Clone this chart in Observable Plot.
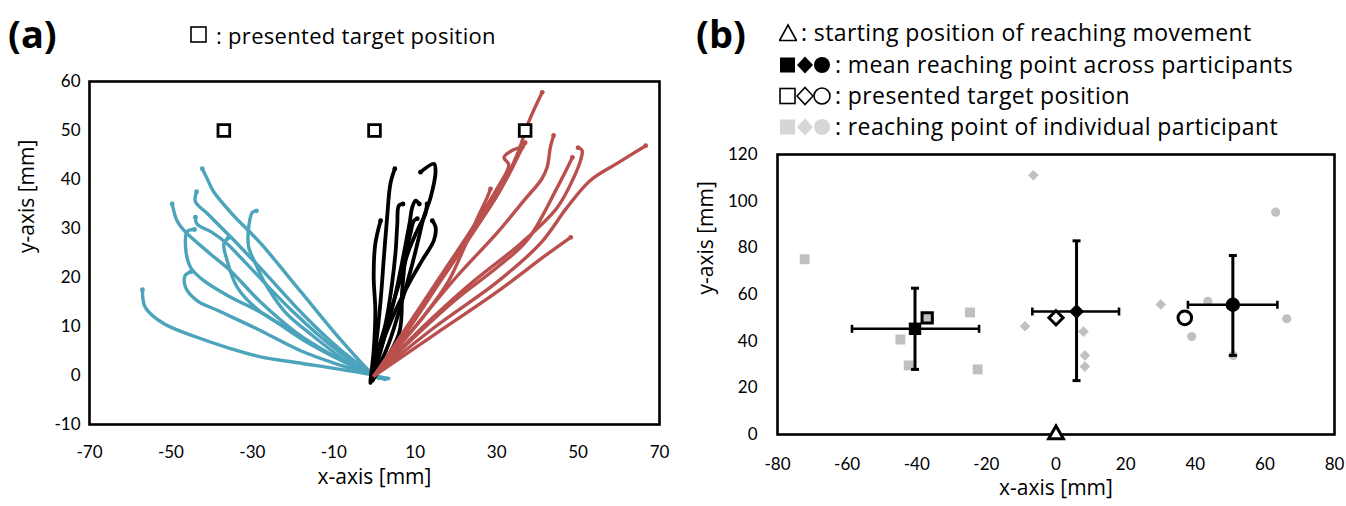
<!DOCTYPE html>
<html>
<head>
<meta charset="utf-8">
<script src="https://cdn.jsdelivr.net/npm/d3@7"></script>
<script src="https://cdn.jsdelivr.net/npm/@observablehq/plot@0.6"></script>
<style>
  html, body { margin: 0; padding: 0; background: #fff; }
  body { width: 1346px; height: 506px; position: relative; overflow: hidden; font-family: "Open Sans", Lato, sans-serif; }
  .panel { position: absolute; top: 0; }
  .lbl { position: absolute; font-weight: bold; font-size: 38px; line-height: 1; }
  .leg { position: absolute; font-size: 23px; letter-spacing: 0.4px; line-height: 1; white-space: nowrap; display: flex; align-items: center; }
  .leg svg { display: block; }
</style>
</head>
<body>
<div id="pa" class="panel" style="left:0"></div>
<div id="pb" class="panel" style="left:680px"></div>
<div class="lbl" style="left:8px;top:14px">(a)</div>
<div class="lbl" style="left:696px;top:14px">(b)</div>
<div class="leg" style="left:189px;top:24px;font-size:22px;letter-spacing:0.3px"><svg width="20" height="20"><rect x="2" y="2" width="15" height="15" fill="#fff" stroke="#000" stroke-width="1.6"/></svg><span style="margin-left:7px">: presented target position</span></div>
<div id="legb"></div>
<script>
// ---------- Panel (a): reaching trajectories (mm) ----------
const targetsA = [[-37, 50], [0, 50], [37, 50]];

const cyanTrajectories = [
  [[2.5,-0.8],[0,0],[-8,1.2],[-18,2.5],[-28,3.8],[-35.4,5.5],[-43.6,7.8],[-51.8,10.6],[-56.3,13.9],[-57,17.5]],
  [[2,-0.6],[0,0],[-8,2],[-18,5],[-28.8,9.5],[-38.6,13.3],[-43.6,15.3],[-46.4,18],[-46.5,20.4],[-45,21.2]],
  [[1.5,-0.5],[0,0],[-8,7],[-18,17],[-28,27],[-35,33],[-39.5,37.5],[-41,40],[-42.3,42.2]],
  [[3,-0.7],[0,0],[-8,3],[-18,8],[-28,15],[-35.4,21.4],[-40.3,24.8],[-46.8,29.6],[-48.5,31.6],[-49.7,35]],
  [[1,-0.6],[0,0],[-8,5],[-17,12],[-27,21],[-35,28],[-41,33],[-44,35.5],[-43.7,37.5]],
  [[2,-0.5],[0,0],[-9,5],[-20,13],[-32.9,24.1],[-36.2,26.9],[-39.9,29.2],[-43.6,30.9],[-44,32.3]],
  [[1.5,-0.4],[0,0],[-7,3],[-15,8],[-22,13],[-27,19],[-29.2,22.8],[-30.9,26.2],[-30.9,30.3],[-30,33.3],[-29,33.6]],
  [[3.5,-0.6],[0,0],[-8,3],[-17,7],[-27.3,12.6],[-35.4,16],[-42,19.4],[-45.2,22.1],[-46.4,26.2],[-46,29.4],[-44.2,29.8]],
  [[1,-0.3],[0,0],[-10,4],[-20,9],[-28,13],[-33.7,18],[-36.2,23.5],[-37,26.9],[-36,28]]
];

const blackTrajectories = [
  [[-1,-1.5],[0.2,5.1],[1.5,15.3],[2.3,24.1],[3.1,32.3],[3.9,39.1],[5,42.2]],
  [[-0.5,-1],[3.5,6.5],[6.8,15.3],[9.3,22.8],[10.9,28.2],[12.1,32.3],[13.8,36.4],[15,41.8],[14.6,43.2],[11.3,41.5]],
  [[-1,-1],[-0.2,5.1],[0.2,13.3],[-0.2,20.1],[0.2,26.9],[1.5,31.6]],
  [[-0.5,-1],[-0.2,2.1],[2.7,10.5],[4.3,18.7],[5.2,25.5],[5.6,30.9],[6,34.7],[7,35]],
  [[-0.5,-1],[3.1,10.5],[6,18.7],[8.4,25.5],[10.5,29.6],[12.5,33],[12.9,35]],
  [[-0.5,-1],[1.9,6.5],[5.2,13.3],[8.4,18.7],[11.7,23.5],[14.6,27.6],[15,30.3],[14.2,31.6]],
  [[-0.5,-1],[6,8.5],[6.8,17.3],[7.6,24.1],[8.8,28.9],[9.7,31.6],[10.5,32]],
  [[-0.5,-1],[2.5,8],[5,16],[7,24],[8.6,31],[9.3,34.4],[10.1,35.7],[11,35]]
];

const redTrajectories = [
  [[0,0],[8,9],[16,19],[24,29],[31,38],[35,45],[38,52],[41.2,57.8]],
  [[0,0],[8,10],[16,20],[24,30],[30,38],[33,43],[31.8,44.5],[34,46],[36.3,46.6]],
  [[0,0],[10,10],[20,20],[30,29],[37,36],[41,40],[42.4,42.5],[43.2,46.6],[44,49]],
  [[0,0],[12,10],[24,19],[36,27],[44.9,34.3],[49,40.5],[50.6,43.9],[51,45.9],[50,46.5]],
  [[0,0],[10,8],[20,15.5],[30,22],[37.5,27.6],[44.9,38.4],[48.6,44.5]],
  [[0,0],[15,10],[30,19],[40.8,27],[47.3,34.3],[53,39.8],[60,43.5],[66.6,46.9]],
  [[0,0],[15,8.5],[30,17],[42,24.5],[48.2,28.2]],
  [[0,0],[6,6],[12,12],[18,19],[22,26],[25,31.6],[27.7,36.4],[28.5,38.1]],
  [[0,0],[10,12],[20,24],[28,34],[33,41],[36,46],[37,47.5]]
];

const xTicksA = [-70, -50, -30, -10, 10, 30, 50, 70];
const yTicksA = [-10, 0, 10, 20, 30, 40, 50, 60];

// ---------- Panel (b): reaching points (mm) ----------
const groups = ["square", "diamond", "circle"];
const meanX = [-40.5, 5.9, 50.8];
const meanY = [45.3, 52.7, 55.6];
const errXLow = [-58.6, -6.8, 37.9];
const errXHigh = [-22.1, 18.1, 63.6];
const errYLow = [27.9, 23.1, 33.9];
const errYHigh = [62.7, 83.0, 76.7];
const targetX = [-37, 0, 37];
const targetY = [50, 50, 50];
const indivSquares = [[-72.2, 75.1], [-44.7, 40.7], [-42.3, 29.6], [-24.7, 52.3], [-22.5, 27.9], [-37, 50]];
const indivDiamonds = [[-6.5, 111.1], [-8.9, 46.4], [7.9, 44.1], [8.3, 33.9], [8.3, 29.1], [30.1, 55.7]];
const indivCircles = [[63.1, 95.3], [43.6, 57.1], [39.0, 42.0], [66.3, 49.6], [50.9, 33.9]];
const startPoint = [[0, 0]];
const xTicksB = [-80, -60, -40, -20, 0, 20, 40, 60, 80];
const yTicksB = [0, 20, 40, 60, 80, 100, 120];

// ---------- helpers ----------
const CYAN = "#4ba4bb", RED = "#b9504e", GRAY = "#c0c0c0";
function flatten(list, group) {
  const out = [];
  list.forEach((pts, i) => pts.forEach(([x, y], j) => out.push({x, y, id: group + i, last: j === pts.length - 1})));
  return out;
}
const cyanRows = flatten(cyanTrajectories, "c");
const blackRows = flatten(blackTrajectories, "b");
const redRows = flatten(redTrajectories, "r");
const fmt = d => String(d);
const TICKFONT = "Lato, 'Open Sans', sans-serif";
const LABELFONT = "'Open Sans', Lato, sans-serif";

const plotA = Plot.plot({
  width: 680, height: 506,
  marginTop: 81, marginRight: 21, marginBottom: 82, marginLeft: 89,
  style: {fontFamily: TICKFONT, fontSize: "17px", color: "#000", background: "transparent"},
  x: {domain: [-70, 70], ticks: xTicksA, tickFormat: fmt, tickSize: 0, tickPadding: 21, label: null},
  y: {domain: [-10, 60], ticks: yTicksA, tickFormat: fmt, tickSize: 0, tickPadding: 9, label: null},
  marks: [
    Plot.line(cyanRows, {x: "x", y: "y", z: "id", stroke: CYAN, strokeWidth: 3.4, curve: "catmull-rom", strokeLinecap: "round", strokeLinejoin: "round"}),
    Plot.dot(cyanRows.filter(d => d.last), {x: "x", y: "y", r: 2.4, fill: CYAN}),
    Plot.line(blackRows, {x: "x", y: "y", z: "id", stroke: "#000", strokeWidth: 3.8, curve: "catmull-rom", strokeLinecap: "round", strokeLinejoin: "round"}),
    Plot.dot(blackRows.filter(d => d.last), {x: "x", y: "y", r: 2.4, fill: "#000"}),
    Plot.line(redRows, {x: "x", y: "y", z: "id", stroke: RED, strokeWidth: 3.4, curve: "catmull-rom", strokeLinecap: "round", strokeLinejoin: "round"}),
    Plot.dot(redRows.filter(d => d.last), {x: "x", y: "y", r: 2.4, fill: RED}),
    Plot.dot(targetsA, {x: d => d[0], y: d => d[1], symbol: "square", r: 6.6, fill: "#fff", stroke: "#000", strokeWidth: 2.8}),
    Plot.frame({stroke: "#000", strokeWidth: 2.6}),
    Plot.text(["x-axis [mm]"], {frameAnchor: "bottom", dy: 59, fontSize: 21, fontFamily: LABELFONT}),
    Plot.text(["y-axis [mm]"], {frameAnchor: "left", dx: -62, rotate: -90, fontSize: 21, fontFamily: LABELFONT})
  ]
});
document.getElementById("pa").appendChild(plotA);

const capV = {draw(c, s) { const h = Math.sqrt(s / Math.PI); c.moveTo(0, -h); c.lineTo(0, h); }};
const capH = {draw(c, s) { const h = Math.sqrt(s / Math.PI); c.moveTo(-h, 0); c.lineTo(h, 0); }};
const means = groups.map((g, i) => ({g, x: meanX[i], y: meanY[i], x1: errXLow[i], x2: errXHigh[i], y1: errYLow[i], y2: errYHigh[i], tx: targetX[i], ty: targetY[i]}));
const byG = g => means.filter(d => d.g === g);

const plotB = Plot.plot({
  width: 666, height: 506,
  marginTop: 154, marginRight: 12, marginBottom: 72, marginLeft: 97,
  style: {fontFamily: TICKFONT, fontSize: "17px", color: "#000", background: "transparent"},
  x: {domain: [-80, 80], ticks: xTicksB, tickFormat: fmt, tickSize: 0, tickPadding: 23, label: null},
  y: {domain: [0, 120], ticks: yTicksB, tickFormat: fmt, tickSize: 0, tickPadding: 20, label: null},
  marks: [
    Plot.dot(indivSquares, {x: d => d[0], y: d => d[1], symbol: "square", r: 5.6, fill: GRAY}),
    Plot.dot(indivDiamonds, {x: d => d[0], y: d => d[1], symbol: "diamond2", r: 4.8, fill: GRAY}),
    Plot.dot(indivCircles, {x: d => d[0], y: d => d[1], symbol: "circle", r: 4.6, fill: GRAY}),
    Plot.ruleY(means, {y: "y", x1: "x1", x2: "x2", stroke: "#000", strokeWidth: 2.6}),
    Plot.ruleX(means, {x: "x", y1: "y1", y2: "y2", stroke: "#000", strokeWidth: 3}),
    Plot.dot(means, {x: "x1", y: "y", symbol: capV, r: 4, stroke: "#000", strokeWidth: 2.6}),
    Plot.dot(means, {x: "x2", y: "y", symbol: capV, r: 4, stroke: "#000", strokeWidth: 2.6}),
    Plot.dot(means, {x: "x", y: "y1", symbol: capH, r: 4, stroke: "#000", strokeWidth: 3}),
    Plot.dot(means, {x: "x", y: "y2", symbol: capH, r: 4, stroke: "#000", strokeWidth: 3}),
    // presented targets (open)
    Plot.dot(byG("square"), {x: "tx", y: "ty", symbol: "square", r: 5.8, fill: "none", stroke: "#000", strokeWidth: 3}),
    Plot.dot(byG("diamond"), {x: "tx", y: "ty", symbol: "diamond2", r: 6.4, fill: "#fff", stroke: "#000", strokeWidth: 3}),
    Plot.dot(byG("circle"), {x: "tx", y: "ty", symbol: "circle", r: 6.8, fill: "#fff", stroke: "#000", strokeWidth: 3}),
    // means (filled)
    Plot.dot(byG("square"), {x: "x", y: "y", symbol: "square", r: 7, fill: "#000"}),
    Plot.dot(byG("diamond"), {x: "x", y: "y", symbol: "diamond2", r: 6.8, fill: "#000"}),
    Plot.dot(byG("circle"), {x: "x", y: "y", symbol: "circle", r: 7.2, fill: "#000"}),
    Plot.frame({stroke: "#000", strokeWidth: 2.6}),
    Plot.dot(startPoint, {x: d => d[0], y: d => d[1], symbol: "triangle", r: 5.5, fill: "#fff", stroke: "#000", strokeWidth: 3}),
    Plot.text(["x-axis [mm]"], {frameAnchor: "bottom", dy: 60, fontSize: 21, fontFamily: LABELFONT}),
    Plot.text(["y-axis [mm]"], {frameAnchor: "left", dx: -71, rotate: -90, fontSize: 21, fontFamily: LABELFONT})
  ]
});
document.getElementById("pb").appendChild(plotB);

// ---------- Panel (b) legend ----------
const legendRows = [
  {top: 21, shapes: ["triangle"], style: "open", text: ": starting position of reaching movement"},
  {top: 53, shapes: ["square", "diamond", "circle"], style: "black", text: ": mean reaching point across participants"},
  {top: 84, shapes: ["square", "diamond", "circle"], style: "open", text: ": presented target position"},
  {top: 115, shapes: ["square", "diamond", "circle"], style: "gray", text: ": reaching point of individual participant"}
];
function glyph(shape, style) {
  const fill = style === "black" ? "#000" : style === "gray" ? "#d6d6d6" : "#fff";
  const stroke = style === "open" ? "#000" : "none";
  const sw = 1.6;
  let el;
  if (shape === "square") el = `<rect x="1" y="2.5" width="15" height="15" fill="${fill}" stroke="${stroke}" stroke-width="${sw}"/>`;
  else if (shape === "diamond") el = `<path d="M9,1.5 L17,10 L9,18.5 L1,10 Z" fill="${fill}" stroke="${stroke}" stroke-width="${sw}"/>`;
  else if (shape === "circle") el = `<circle cx="9" cy="10" r="8" fill="${fill}" stroke="${stroke}" stroke-width="${sw}"/>`;
  else el = `<path d="M9,2 L17.5,17.5 L0.5,17.5 Z" fill="${fill}" stroke="${stroke}" stroke-width="${sw}"/>`;
  return `<svg width="18" height="20" style="margin-right:-1px">${el}</svg>`;
}
document.getElementById("legb").innerHTML = legendRows.map(r =>
  `<div class="leg" style="left:779px;top:${r.top}px">${r.shapes.map(s => glyph(s, r.style)).join("")}<span style="margin-left:5px">${r.text}</span></div>`
).join("");
</script>
</body>
</html>
